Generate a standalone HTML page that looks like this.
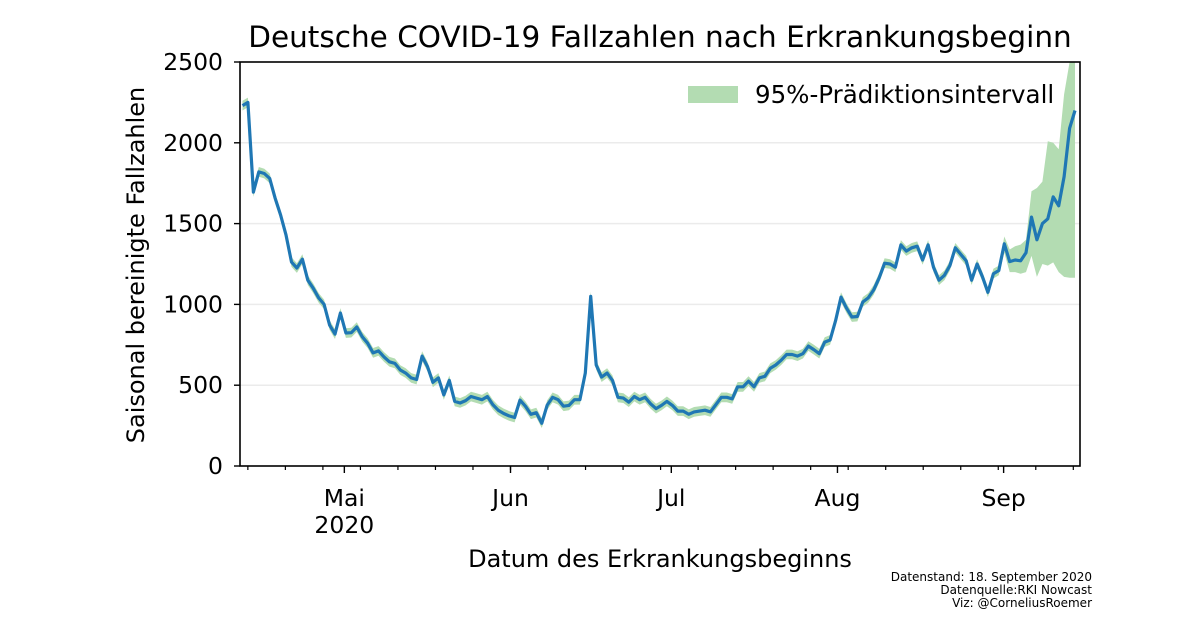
<!DOCTYPE html>
<html><head><meta charset="utf-8"><style>
body{margin:0;background:#fff;}
svg text{font-family:"DejaVu Sans","Liberation Sans",sans-serif;fill:#000;}
</style></head><body>
<svg id="chart" width="1200" height="622" viewBox="0 0 1200 622" xmlns="http://www.w3.org/2000/svg">
<rect width="1200" height="622" fill="#fff"/>
<text x="660" y="47" font-size="29.5" text-anchor="middle">Deutsche COVID-19 Fallzahlen nach Erkrankungsbeginn</text>
<g id="grid"></g>
<g id="band"></g>
<g id="line"></g>
<g id="axes"></g>
<g>
<rect x="688" y="86" width="50" height="17" fill="#b3dcb2"/>
<text x="755" y="103" font-size="24.5">95%-Prädiktionsintervall</text>
</g>
<text transform="translate(144,265) rotate(-90)" font-size="24" text-anchor="middle">Saisonal bereinigte Fallzahlen</text>
<text x="660" y="567" font-size="24" text-anchor="middle">Datum des Erkrankungsbeginns</text>
<g font-size="12" text-anchor="end">
<text x="1092" y="581">Datenstand: 18. September 2020</text>
<text x="1092" y="594">Datenquelle:RKI Nowcast</text>
<text x="1092" y="607">Viz: @CorneliusRoemer</text>
</g>
</svg>
<script>
const values=[2230,2250,1695,1820,1810,1780,1658,1553,1430,1262,1225,1280,1150,1100,1040,1000,872,816,947,823,825,860,800,760,700,712,675,645,635,594,575,545,535,680,615,518,545,440,530,400,390,405,430,420,410,430,380,345,
325,310,300,408,370,320,330,265,377,425,410,370,375,410,410,575,1050,625,550,575,530,425,420,395,430,410,425,385,355,375,400,375,340,340,320,335,340,345,335,380,425,425,415,490,490,525,490,545,555,605,625,655,690,690,
680,695,742,720,695,767,780,900,1045,977,922,925,1015,1040,1090,1163,1255,1250,1230,1368,1330,1350,1360,1275,1368,1230,1150,1180,1240,1350,1310,1270,1150,1250,1170,1075,1190,1210,1375,1265,1275,1270,1320,1540,1400,1500,1530,1665,1610,1790,2090,2200];
const bandMargin=30;
const tailStart=140;
const tailUpper=[1420,1340,1360,1370,1400,1700,1720,1760,2010,2000,1960,2300,2800,2900];
const tailLower=[1320,1200,1200,1190,1200,1300,1170,1250,1240,1260,1200,1170,1165,1165];
const yTicks=[0,500,1000,1500,2000,2500];
const monthLabels=["Mai","Jun","Jul","Aug","Sep"];
const monthDay=[19,50,80,111,142]; // day offsets from Apr 12
const NS="http://www.w3.org/2000/svg";
const L=240,R=1080,T=62,B=466,yMax=2500;
const x0=242.5,x1=1075;
const dayPx=5.36;
const xi=i=>x0+i*(x1-x0)/(values.length-1);
const xd=d=>x0+d*dayPx;
const y=v=>B-(Math.min(v,yMax)/yMax)*(B-T);
function mk(tag,attrs,parent){const e=document.createElementNS(NS,tag);for(const k in attrs)e.setAttribute(k,attrs[k]);parent.appendChild(e);return e;}
const grid=document.getElementById('grid');
yTicks.forEach(t=>{if(t>0&&t<yMax){const g=mk('line',{x1:L,x2:R,y1:y(t),y2:y(t),stroke:'#ebebeb','stroke-width':1.5},grid);

}});
const upper=values.map((v,i)=>i>=tailStart?tailUpper[i-tailStart]:v+bandMargin);
const lower=values.map((v,i)=>i>=tailStart?tailLower[i-tailStart]:v-bandMargin);
let d='M'+values.map((v,i)=>xi(i).toFixed(1)+','+y(upper[i]).toFixed(1)).join('L');
for(let i=values.length-1;i>=0;i--)d+='L'+xi(i).toFixed(1)+','+y(lower[i]).toFixed(1);
const band=mk('path',{d:d+'Z',fill:'#b3dcb2'},document.getElementById('band'));


const ln=mk('polyline',{points:values.map((v,i)=>xi(i).toFixed(1)+','+y(v).toFixed(1)).join(' '),fill:'none',stroke:'#1f77b4','stroke-width':3.2,'stroke-linejoin':'round'},document.getElementById('line'));


const ax=document.getElementById('axes');
const fr=mk('rect',{x:L,y:T,width:R-L,height:B-T,fill:'none',stroke:'#000','stroke-width':1.6},ax);


yTicks.forEach(t=>{const tk=mk('line',{x1:L-6,x2:L,y1:y(t),y2:y(t),stroke:'#000','stroke-width':1.4},ax);


const lb=mk('text',{x:L-17,y:y(t)+8,'font-size':23.5,'text-anchor':'end'},ax);lb.textContent=t;

});
for(let d=1;xd(d)<=R;d+=7){const tk=mk('line',{x1:xd(d),x2:xd(d),y1:B,y2:B+4,stroke:'#000','stroke-width':1.2},ax);

}
monthLabels.forEach((m,i)=>{const xx=xd(monthDay[i]);const tk=mk('line',{x1:xx,x2:xx,y1:B,y2:B+7,stroke:'#000','stroke-width':1.4},ax);


const lb=mk('text',{x:xx,y:506,'font-size':23.5,'text-anchor':'middle'},ax);lb.textContent=m;

});
const yr=mk('text',{x:xd(monthDay[0]),y:533,'font-size':23.5,'text-anchor':'middle'},ax);yr.textContent='2020';


</script>
</body></html>
